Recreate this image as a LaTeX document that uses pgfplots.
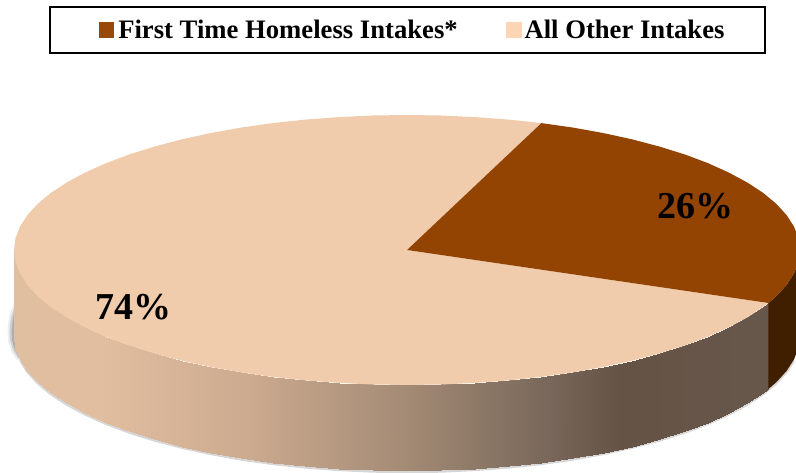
\documentclass[border=0pt]{standalone}
\usepackage{fontspec}
\setmainfont{Liberation Serif}
\usepackage{pgfplots}
\pgfplotsset{compat=1.18}

\definecolor{lidtan}{RGB}{240,204,172}
\definecolor{lidbrown}{RGB}{147,68,3}
\definecolor{walldark}{RGB}{63,31,0}
\definecolor{swatchbrown}{RGB}{152,72,7}
\definecolor{swatchtan}{RGB}{252,213,181}

% coordinates are reference pixels, y running down
\begin{document}
\begin{tikzpicture}
  \path[use as bounding box] (0,0) rectangle (597pt,354.75pt);
  \begin{axis}[
    scale only axis,
    width=597pt,
    height=354.75pt,
    xmin=0, xmax=796,
    ymin=0, ymax=473,
    y dir=reverse,
    hide axis,
    colormap={wall}{
      rgb255(0pt)=(224,190,160);
      rgb255(86pt)=(226,190,160);
      rgb255(236pt)=(203,170,143);
      rgb255(386pt)=(165,140,118);
      rgb255(536pt)=(120,103,90);
      rgb255(606pt)=(101,83,69);
      rgb255(754pt)=(103,87,75)
    },
    point meta min=14,
    point meta max=768,
    legend columns=2,
    legend cell align=left,
    legend style={
      at={(407.5/796,1-30/473)},
      anchor=center,
      draw=black,
      line width=1.1pt,
      inner xsep=28.5pt,
      inner ysep=7.5pt,
      font=\fontsize{20}{23}\selectfont\bfseries,
      /tikz/column 1/.style={column sep=1pt},
      /tikz/column 2/.style={column sep=34.5pt},
    },
  ]
    % shadow under the body
    \addplot[forget plot, fill=black, fill opacity=0.07, draw=none] table {
      x y
      14 303
      9.5 315
      7.5 328
      8 341
      11.5 352
      17 360
      20 360
      15.5 348
      14 336
    } -- cycle;
    \addplot[forget plot, fill=black, fill opacity=0.12, draw=none] table {
      x y
      14 308
      11 318
      9.5 329
      10 340
      13 350
      18 358
      20 359.4
      15.5 347.8
      14 336
    } -- cycle;
    \addplot[forget plot, fill=black, fill opacity=0.16, draw=none] table {
      x y
      14 313
      12.5 322
      11.5 331
      12 340
      14.5 349
      20 359.4
      15.5 347.8
      14 336
    } -- cycle;
    \addplot[forget plot, draw=black, draw opacity=0.16, line width=1.8pt] table {
      x y
      20 360
      27.4 371.9
      37.7 383.2
      50.8 394.1
      66.7 404.5
      85.1 414.4
      105.9 423.8
      129.1 432.5
      154.4 440.4
      181.6 447.6
      210.5 453.9
      240.9 459.4
      272.6 463.9
      305.3 467.4
      338.8 469.9
      372.7 471.5
      407 472
      441.3 471.5
      475.2 469.9
      508.7 467.4
      541.4 463.9
      573.1 459.4
      603.5 453.9
      632.4 447.6
      659.6 440.4
      684.9 432.5
      708.1 423.8
      728.9 414.4
      747.3 404.5
      763.2 394.1
      776.3 383.2
      786.6 371.9
      794 360.4
    };

    % outer wall of the large slice, shaded left to right
    \addplot[forget plot, surf, shader=interp, mesh/cols=2, point meta=x] table {
      x y
      14 250
      14 336
      15.5 261.8
      15.5 347.8
      20 273.4
      20 359.4
      27.4 284.9
      27.4 370.9
      37.7 296.2
      37.7 382.2
      50.8 307.1
      50.8 393.1
      66.7 317.5
      66.7 403.5
      85.1 327.4
      85.1 413.4
      105.9 336.8
      105.9 422.8
      129.1 345.5
      129.1 431.5
      154.4 353.4
      154.4 439.4
      181.6 360.6
      181.6 446.6
      210.5 366.9
      210.5 452.9
      240.9 372.4
      240.9 458.4
      272.6 376.9
      272.6 462.9
      305.3 380.4
      305.3 466.4
      338.8 382.9
      338.8 468.9
      372.7 384.5
      372.7 470.5
      407 385
      407 471
      441.3 384.5
      441.3 470.5
      475.2 382.9
      475.2 468.9
      508.7 380.4
      508.7 466.4
      541.4 376.9
      541.4 462.9
      573.1 372.4
      573.1 458.4
      603.5 366.9
      603.5 452.9
      632.4 360.6
      632.4 446.6
      659.6 353.4
      659.6 439.4
      684.9 345.5
      684.9 431.5
      708.1 336.8
      708.1 422.8
      728.9 327.4
      728.9 413.4
      747.3 317.5
      747.3 403.5
      763.2 307.1
      763.2 393.1
      768.4 303
      768.4 389
    };

    % outer wall of the small slice
    \addplot[forget plot, fill=walldark, draw=none] table {
      x y
      768.4 303
      776.3 296.2
      786.6 284.9
      794 273.4
      798.5 261.8
      800 250
      800 336
      798.5 347.8
      794 359.4
      786.6 370.9
      776.3 382.2
      768.4 389
    } -- cycle;

    % top face, 74%
    \addplot[forget plot, fill=lidtan, draw=none] table {
      x y
      407 250
      768.4 303
      763.2 307.1
      747.3 317.5
      728.9 327.4
      708.1 336.8
      684.9 345.5
      659.6 353.4
      632.4 360.6
      603.5 366.9
      573.1 372.4
      541.4 376.9
      508.7 380.4
      475.2 382.9
      441.3 384.5
      407 385
      372.7 384.5
      338.8 382.9
      305.3 380.4
      272.6 376.9
      240.9 372.4
      210.5 366.9
      181.6 360.6
      154.4 353.4
      129.1 345.5
      105.9 336.8
      85.1 327.4
      66.7 317.5
      50.8 307.1
      37.7 296.2
      27.4 284.9
      20 273.4
      15.5 261.8
      14 250
      15.5 238.2
      20 226.6
      27.4 215.1
      37.7 203.8
      50.8 192.9
      66.7 182.5
      85.1 172.6
      105.9 163.2
      129.1 154.5
      154.4 146.6
      181.6 139.4
      210.5 133.1
      240.9 127.6
      272.6 123.1
      305.3 119.6
      338.8 117.1
      372.7 115.5
      407 115
      441.3 115.5
      475.2 117.1
      508.7 119.6
      541.4 123.1
    } -- cycle;

    % top face, 26%
    \addplot[forget plot, fill=lidbrown, draw=none] table {
      x y
      407 250
      541.4 123.1
      573.1 127.6
      603.5 133.1
      632.4 139.4
      659.6 146.6
      684.9 154.5
      708.1 163.2
      728.9 172.6
      747.3 182.5
      763.2 192.9
      776.3 203.8
      786.6 215.1
      794 226.6
      798.5 238.2
      800 250
      798.5 261.8
      794 273.4
      786.6 284.9
      776.3 296.2
      768.4 303
    } -- cycle;

    \addlegendimage{legend image code/.code={\path (-8.25pt,0pt); \fill[swatchbrown] (0pt,-5.25pt) rectangle (10.5pt,5.25pt);}}
    \addlegendentry{First Time Homeless Intakes*}
    \addlegendimage{legend image code/.code={\fill[swatchtan] (0pt,-5.25pt) rectangle (10.5pt,5.25pt);}}
    \addlegendentry{All Other Intakes}

    \node[font=\fontsize{28.5}{30}\selectfont\bfseries] at (axis cs:695,206) {26\%};
    \node[font=\fontsize{28.5}{30}\selectfont\bfseries] at (axis cs:133,307) {74\%};
  \end{axis}
\end{tikzpicture}
\end{document}
